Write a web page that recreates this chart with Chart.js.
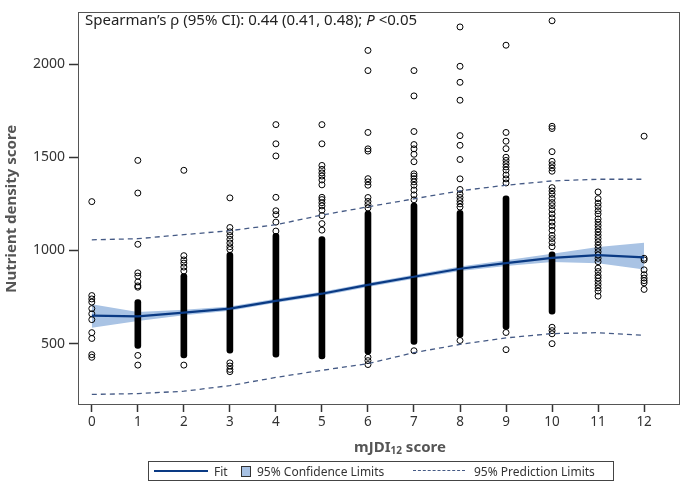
<!DOCTYPE html>
<html><head><meta charset="utf-8">
<script src="https://cdn.jsdelivr.net/npm/chart.js@4.4.1/dist/chart.umd.min.js"></script>
<style>
html,body{margin:0;padding:0;background:#fff;}
#wrap{position:relative;width:685px;height:486px;overflow:hidden;}
canvas{position:absolute;left:0;top:0;}
.note{position:absolute;left:85px;top:9px;font:15px 'Noto Sans',sans-serif;color:#222;white-space:nowrap;}
.xt{position:absolute;left:300px;width:200px;top:436px;text-align:center;font:bold 15px 'Noto Sans',sans-serif;color:#555;}
.xt sub{font-size:10px;vertical-align:-2px;line-height:0;}
.leg{position:absolute;left:148px;top:461px;width:466px;height:20px;border:1px solid #444;box-sizing:border-box;font:12px 'Noto Sans',sans-serif;color:#333;}
.leg span{position:absolute;top:1px;white-space:nowrap;}
.leg i{position:absolute;display:block;}
</style></head>
<body>
<div id="wrap">
<canvas id="c" width="685" height="486"></canvas>
<div class="note">Spearman’s ρ (95% CI): 0.44 (0.41, 0.48); <i>P</i> &lt;0.05</div>
<div class="xt">mJDI<sub>12</sub> score</div>
<div class="leg">
  <i style="left:5px;top:8px;width:54px;height:0;border-top:2px solid #0a3a84;"></i>
  <span style="left:65px;">Fit</span>
  <i style="left:92px;top:4px;width:8px;height:9px;background:#a7c1e3;border:1px solid #333;"></i>
  <span style="left:108px;">95% Confidence Limits</span>
  <i style="left:264px;top:8px;width:52px;height:0;border-top:1.5px dashed #455a85;"></i>
  <span style="left:325px;">95% Prediction Limits</span>
</div>
</div>
<script>
// ---- data ----
const scores = [0,1,2,3,4,5,6,7,8,9,10,11,12];
const xTicks = [0,1,2,3,4,5,6,7,8,9,10,11,12];
const yTicks = [500,1000,1500,2000];

const fitValues = [650,646,667,688,730,768,815,859,902,932,960,975,963];
const clLower   = [585,622,652,677,719,757,804,848,890,917,938,932,898];
const clUpper   = [712,670,682,699,741,779,826,870,914,947,982,1018,1042];
const plLower   = [228,232,245,275,319,357,393,452,496,531,554,559,545];
const plUpper   = [1057,1063,1085,1106,1138,1190,1234,1277,1320,1350,1373,1382,1382];

// dense (overlapping) ranges of observations per score
const denseLow  = [null,475,423,449,427,418,444,496,534,577,658,null,null];
const denseHigh = [null,737,876,990,1092,1075,1211,1254,1215,1293,993,null,null];

// individually visible observations per score
const pts0  = [1262,758,740,723,688,660,629,559,528,441,427];
const pts1  = [1483,1308,1033,880,862,831,810,803,437,385];
const pts2  = [1430,972,949,932,911,890,385];
const pts3  = [1282,1123,1100,1080,1060,1040,1020,1005,397,380,362,350];
const pts4  = [1675,1572,1507,1285,1213,1192,1152,1104];
const pts5  = [1675,1572,1456,1435,1416,1399,1378,1352,1285,1273,1256,1239,1216,1187,1144,1109];
const pts6  = [2073,1965,1633,1545,1533,1385,1368,1350,1284,1263,1246,1228,427,409,388];
const pts7  = [1965,1829,1638,1568,1545,1516,1476,1411,1399,1385,1368,1350,1324,1298,1272,462];
const pts8  = [2199,1988,1902,1806,1616,1564,1488,1384,1327,1302,1284,1267,1250,1233,517];
const pts9  = [2101,1633,1586,1546,1500,1483,1465,1448,1431,1405,1384,1362,560,468];
const pts10 = [2232,1666,1654,1530,1478,1460,1442,1425,1337,1319,1301,1279,1257,1240,1219,1196,1175,1152,1131,1108,1081,1064,1042,1020,588,570,553,500];
const pts11 = [1314,1278,1254,1236,1213,1196,1169,1152,1134,1116,1099,1081,1064,1046,1028,1011,993,976,958,940,905,887,866,852,835,817,799,782,755];
const pts12 = [1613,958,949,896,870,852,838,826,791];
const ptsByScore = [pts0,pts1,pts2,pts3,pts4,pts5,pts6,pts7,pts8,pts9,pts10,pts11,pts12];

// ---- build datasets ----
const toXY = arr => scores.map((s,i)=>({x:s,y:arr[i]}));
const scatterData = [];
ptsByScore.forEach((arr,i)=>arr.forEach(v=>scatterData.push({x:scores[i],y:v})));
const denseData = [];
scores.forEach((s,i)=>{ if(denseLow[i]!==null) denseData.push({x:s,y:[denseLow[i],denseHigh[i]]}); });

Chart.defaults.font.family = "'Noto Sans', sans-serif";
Chart.defaults.animation = false;

const frame = {
  id:'frame',
  afterDatasetsDraw(chart){
    const a = chart.chartArea, ctx = chart.ctx;
    ctx.save();
    ctx.strokeStyle = '#555';
    ctx.lineWidth = 1;
    ctx.strokeRect(Math.round(a.left)+0.5, Math.round(a.top)+0.5, Math.round(a.right-a.left)-1, Math.round(a.bottom-a.top)-1);
    ctx.restore();
  }
};

new Chart(document.getElementById('c'), {
  type:'scatter',
  data:{datasets:[
    {type:'line', label:'CL upper', data:toXY(clUpper), fill:'+1', backgroundColor:'#a9c3e4', borderWidth:0, pointRadius:0, order:10},
    {type:'line', label:'CL lower', data:toXY(clLower), fill:false, borderWidth:0, pointRadius:0, order:11},
    {type:'bar', label:'dense', data:denseData, backgroundColor:'#000', barThickness:6, borderRadius:3, borderSkipped:false, order:5},
    {type:'scatter', label:'obs', data:scatterData, pointRadius:3, borderWidth:1, borderColor:'#000', backgroundColor:'rgba(255,255,255,0)', order:4},
    {type:'line', label:'PL upper', data:toXY(plUpper), borderColor:'#455a85', borderWidth:1.3, borderDash:[5,4], pointRadius:0, fill:false, order:2},
    {type:'line', label:'PL lower', data:toXY(plLower), borderColor:'#455a85', borderWidth:1.3, borderDash:[5,4], pointRadius:0, fill:false, order:2},
    {type:'line', label:'Fit', data:toXY(fitValues), borderColor:'#0a3a84', borderWidth:2.2, pointRadius:0, fill:false, order:1}
  ]},
  options:{
    responsive:false,
    animation:false,
    layout:{padding:{top:2,right:2,left:0,bottom:0}},
    plugins:{legend:{display:false}, tooltip:{enabled:false}},
    scales:{
      x:{type:'linear', min:-0.30, max:12.78, offset:false,
        afterBuildTicks:s=>{s.ticks = xTicks.map(v=>({value:v}));},
        afterFit:s=>{s.height = 81;},
        grid:{display:true, offset:false, drawOnChartArea:false, drawTicks:true, tickLength:7, color:'#333', tickWidth:1.5},
        border:{display:false},
        ticks:{color:'#333', font:{size:13.5}, padding:2, maxRotation:0, autoSkip:false, callback:v=>String(v)}
      },
      y:{type:'linear', min:171, max:2277, offset:false,
        afterBuildTicks:s=>{s.ticks = yTicks.map(v=>({value:v}));},
        afterFit:s=>{s.width = 78;},
        grid:{display:true, offset:false, drawOnChartArea:false, drawTicks:true, tickLength:9, color:'#333', tickWidth:1.5},
        border:{display:false},
        ticks:{color:'#333', font:{size:14}, padding:4, callback:v=>String(v)},
        title:{display:true, text:'Nutrient density score', color:'#555', font:{size:15, weight:'bold'}, padding:{top:3,bottom:0}}
      }
    }
  },
  plugins:[frame]
});
</script>
</body></html>
